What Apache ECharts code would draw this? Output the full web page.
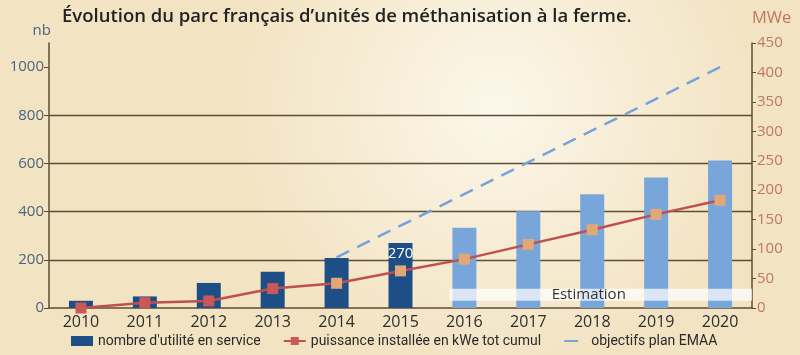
<!DOCTYPE html>
<html>
<head>
<meta charset="utf-8">
<script src="https://cdn.jsdelivr.net/npm/echarts@6/dist/echarts.min.js"></script>
<style>
html,body{margin:0;padding:0;}
#c{width:800px;height:355px;}
</style>
</head>
<body>
<div id="c"></div>
<script>
const title = "Évolution du parc français d’unités de méthanisation à la ferme.";
const years = ['2010','2011','2012','2013','2014','2015','2016','2017','2018','2019','2020'];
const unitsCount = [30, 48, 104, 150, 208, 270, 333, 402, 472, 542, 612];
const powerMWe = [0, 9, 12, 33, 42, 63, 83, 108, 133, 159, 183];
const emaaTarget = [null, null, null, null, 210, null, null, null, null, null, 1000];
const leftTicks = [0, 200, 400, 600, 800, 1000];
const firstEstimatedYear = '2016';
const firstLightMarkerYear = '2014';
const labelledYear = '2015';

const estIdx = years.indexOf(firstEstimatedYear);
const tanIdx = years.indexOf(firstLightMarkerYear);
const lblIdx = years.indexOf(labelledYear);

const chart = echarts.init(document.getElementById('c'));
const axisCol = '#5e4e33';
const font = "'Open Sans', sans-serif";

chart.setOption({
  backgroundColor: {
    type: 'radial', x: 0.62, y: 0.3, r: 0.75,
    colorStops: [{offset: 0, color: '#fcf7ea'}, {offset: 1, color: '#f2e3c2'}]
  },
  animation: false,
  title: {
    text: title, left: 57, top: 2,
    textStyle: {fontFamily: font, fontSize: 18.5, fontWeight: 600, color: '#222'}
  },
  grid: {left: 49, right: 48, top: 43, bottom: 47},
  legend: {
    bottom: 2, left: 66, itemGap: 22, itemWidth: 22, itemHeight: 10,
    textStyle: {fontFamily: "'Liberation Sans Narrow', 'Roboto', sans-serif", fontSize: 14, color: '#2a2a2a'},
    data: [
      {name: "nombre d'utilité en service", icon: 'rect'},
      {name: 'puissance installée en kWe tot cumul'},
      {name: 'objectifs plan EMAA', itemStyle: {opacity: 0}}
    ]
  },
  xAxis: {
    type: 'category', data: years,
    axisLine: {lineStyle: {color: axisCol, width: 1.5}},
    axisTick: {show: false},
    axisLabel: {fontFamily: font, fontSize: 16, color: '#2e2e2e', margin: 6}
  },
  yAxis: [
    {
      type: 'value', min: 0, max: 1100, interval: 200,
      name: 'nb', nameGap: 5,
      nameTextStyle: {fontFamily: font, fontSize: 15, color: '#4d6480', align: 'right', padding: [0, -2, 0, 0]},
      axisLine: {show: true, lineStyle: {color: axisCol, width: 1.5}},
      axisTick: {show: true, length: 5, lineStyle: {color: axisCol}, customValues: leftTicks},
      axisLabel: {fontFamily: font, fontSize: 15, color: '#4d6480', margin: 5, customValues: leftTicks,
                  formatter: v => String(v)},
      splitLine: {show: true, showMinLine: false, showMaxLine: false, lineStyle: {color: axisCol, width: 1.3}}
    },
    {
      type: 'value', min: 0, max: 450, interval: 50, position: 'right',
      name: 'MWe', nameGap: 16,
      nameTextStyle: {fontFamily: font, fontSize: 16.5, color: '#c0785f', align: 'left'},
      axisLine: {show: true, lineStyle: {color: axisCol, width: 1.5}},
      axisTick: {show: true, length: 4, lineStyle: {color: axisCol}},
      axisLabel: {fontFamily: font, fontSize: 15, color: '#c0785f', margin: 5},
      splitLine: {show: false}
    }
  ],
  series: [
    {
      name: "nombre d'utilité en service", type: 'bar', yAxisIndex: 0, barWidth: 24,
      itemStyle: {color: '#1d4f86'},
      data: unitsCount.map((v, i) => ({
        value: v,
        itemStyle: {color: i >= estIdx ? '#79a6da' : '#1d4f86'},
        label: {show: i === lblIdx, position: 'insideTop', distance: 3, color: '#fff',
                fontFamily: font, fontSize: 15}
      })),
      z: 2
    },
    {
      name: 'objectifs plan EMAA', type: 'line', yAxisIndex: 0, connectNulls: true,
      symbol: 'none',
      lineStyle: {color: '#76a3d8', width: 2.5, type: [14, 9]},
      itemStyle: {color: '#76a3d8'},
      data: emaaTarget, z: 3
    },
    {
      name: 'puissance installée en kWe tot cumul', type: 'line', yAxisIndex: 1,
      symbol: 'rect', symbolSize: 11,
      lineStyle: {color: '#c0504d', width: 2.5},
      itemStyle: {color: '#c8585a'},
      data: powerMWe.map((v, i) => ({
        value: v,
        itemStyle: {color: i >= tanIdx ? '#e0a877' : '#c8585a'}
      })),
      z: 4
    }
  ]
});

// "Estimation" band over the estimated years
const xStart = chart.convertToPixel({xAxisIndex: 0}, firstEstimatedYear) - 15;
const xEnd = chart.convertToPixel({xAxisIndex: 0}, years[years.length - 1]) + 32;
const yTop = chart.convertToPixel({yAxisIndex: 0}, 80);
const yBot = chart.convertToPixel({yAxisIndex: 0}, 30);
chart.setOption({
  graphic: [
    {type: 'rect', z: 10, shape: {x: xStart, y: yTop, width: xEnd - xStart, height: yBot - yTop},
     style: {fill: 'rgba(255,255,255,0.72)'}},
    {type: 'text', z: 11, x: (xStart + xEnd) / 2 - 12, y: (yTop + yBot) / 2,
     style: {text: 'Estimation', fill: '#333', font: "15px 'Open Sans', sans-serif",
             align: 'center', verticalAlign: 'middle'}}
  ]
});
</script>
</body>
</html>
